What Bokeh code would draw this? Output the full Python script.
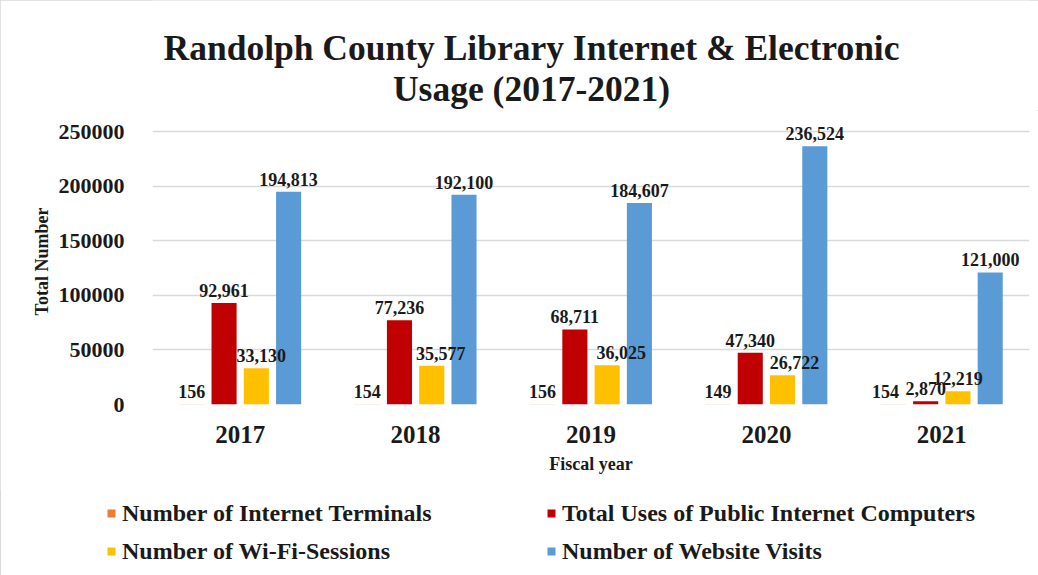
from bokeh.plotting import figure
from bokeh.layouts import column
from bokeh.models import (ColumnDataSource, FactorRange, Range1d, FixedTicker,
                          NumeralTickFormatter, Legend, LegendItem, Label)
from bokeh.transform import dodge
from bokeh.core.properties import value
from bokeh.embed import file_html
from bokeh.resources import INLINE

years = ["2017", "2018", "2019", "2020", "2021"]
terminals = [156, 154, 156, 149, 154]
computer_uses = [92961, 77236, 68711, 47340, 2870]
wifi_sessions = [33130, 35577, 36025, 26722, 12219]
website_visits = [194813, 192100, 184607, 236524, 121000]

series_names = ["Number of Internet Terminals",
                "Total Uses of Public Internet Computers",
                "Number of Wi-Fi-Sessions",
                "Number of Website Visits"]
series_values = [terminals, computer_uses, wifi_sessions, website_visits]
colors = ["#ED7D31", "#C00000", "#FFC000", "#5B9BD5"]
offsets = [-0.276, -0.092, 0.092, 0.276]
# small horizontal nudges (px) of the value labels, as placed in the original
label_nudge = [[0, 0, 0, 0, -8], [0, 0, 0, 0, 0], [5, 9, 14, 12, 0], [0, 0, 0, 0, 0]]
y_ticks = [0, 50000, 100000, 150000, 200000, 250000]
title_lines = ["Randolph County Library Internet & Electronic", "Usage (2017-2021)"]

FONT = value("Liberation Serif")
TXT = "#1a1a1a"
W = 1038


def blank_fig(h):
    f = figure(width=W, height=h, x_range=Range1d(0, 1), y_range=Range1d(0, 1),
               output_backend="svg", toolbar_location=None,
               x_axis_location=None, y_axis_location=None,
               min_border=0)
    f.outline_line_color = None
    f.grid.visible = False
    f.background_fill_color = "white"
    f.border_fill_color = "white"
    return f


# ---- title strip ----
pt = blank_fig(110)
for txt, vy in zip(title_lines, [63, 22]):
    pt.add_layout(Label(x=379, y=vy, x_units="screen", y_units="screen", text=txt,
                        text_align="center", text_baseline="middle",
                        text_font="Liberation Serif", text_font_style="bold",
                        text_font_size="35.5px", text_color=TXT))

# ---- main chart ----
p = figure(x_range=FactorRange(*years), y_range=Range1d(0, 262000),
           width=W, height=380, output_backend="svg", toolbar_location=None,
           min_border_left=152, min_border_right=9, min_border_top=8,
           min_border_bottom=86)
p.outline_line_color = None
p.background_fill_color = "white"
p.border_fill_color = "white"

data = {"year": years}
for i, vals in enumerate(series_values):
    data[f"s{i}"] = vals
    data[f"l{i}"] = [f"{v:,}" for v in vals]
    data[f"d{i}"] = label_nudge[i]
src = ColumnDataSource(data)

for i in range(4):
    p.vbar(x=dodge("year", offsets[i], range=p.x_range), top=f"s{i}",
           width=0.143, source=src, fill_color=colors[i], line_color=None)
for i in range(4):
    p.text(x=dodge("year", offsets[i], range=p.x_range), y=f"s{i}", text=f"l{i}",
           source=src, x_offset=f"d{i}", text_align="center", text_baseline="bottom",
           y_offset=-6, text_font=FONT, text_font_style="bold",
           text_font_size="18px", text_color=TXT)

p.xgrid.grid_line_color = None
p.ygrid.grid_line_color = "#d9d9d9"
p.ygrid.grid_line_width = 1.3
p.yaxis.ticker = FixedTicker(ticks=y_ticks)
p.yaxis.formatter = NumeralTickFormatter(format="0")
for ax in (p.xaxis[0], p.yaxis[0]):
    ax.axis_line_color = None
    ax.major_tick_line_color = None
    ax.minor_tick_line_color = None
    ax.major_tick_out = 0
    ax.major_tick_in = 0
    ax.major_label_text_font = "Liberation Serif"
    ax.major_label_text_font_style = "bold"
    ax.major_label_text_color = TXT
    ax.axis_label_text_font = "Liberation Serif"
    ax.axis_label_text_font_style = "bold"
    ax.axis_label_text_color = TXT
p.xaxis.major_label_text_font_size = "25px"
p.xaxis.major_label_standoff = 21
p.xaxis.axis_label = "Fiscal year"
p.xaxis.axis_label_text_font_size = "18px"
p.xaxis.axis_label_standoff = 8
p.yaxis.major_label_text_font_size = "22px"
p.yaxis.major_label_standoff = 28
p.yaxis.axis_label = "Total Number"
p.yaxis.axis_label_text_font_size = "18px"
p.yaxis.axis_label_standoff = 4

# ---- legend strip: its own root, so its frame spans the full width ----
pl = blank_fig(85)
leg_src = ColumnDataSource({"x": [-5], "top": [0]})
leg_renderers = [pl.vbar(x="x", top="top", width=0.001, source=leg_src,
                         fill_color=c, line_color=None) for c in colors]


def make_legend(idx, vx):
    leg = Legend(items=[LegendItem(label=series_names[i], renderers=[leg_renderers[i]])
                        for i in idx],
                 location=(vx, 10), orientation="vertical",
                 glyph_width=10, glyph_height=10, label_standoff=6,
                 label_height=28, spacing=10, padding=0, margin=0,
                 border_line_color=None, background_fill_alpha=0,
                 label_text_font="Liberation Serif", label_text_font_style="bold",
                 label_text_font_size="24px", label_text_color=TXT)
    pl.add_layout(leg, "center")


make_legend([0, 2], 105)
make_legend([1, 3], 545)

top_part = column(pt, p, spacing=0)
top_part.styles = {"outline": "1px solid #d9d9d9", "outline-offset": "-1px"}
pl.styles = {"border-left": "1px solid #d9d9d9", "box-sizing": "border-box"}

open("out.html", "w").write(file_html([top_part, pl], INLINE))
